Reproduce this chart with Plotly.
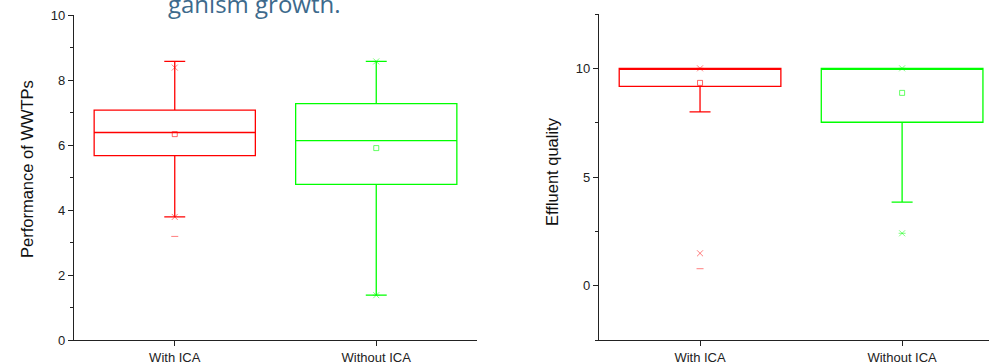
import plotly.graph_objects as go

categories = ["With ICA", "Without ICA"]
cat_pos = [1, 2]
colors = ["#ff0000", "#00ff00"]

# Left panel: Performance of WWTPs
perf_q1 = [5.68, 4.79]
perf_median = [6.39, 6.14]
perf_q3 = [7.08, 7.28]
perf_lower = [3.79, 1.38]
perf_upper = [8.58, 8.58]
perf_mean = [6.34, 5.91]
perf_p_hi = [8.39, 8.58]
perf_p_lo = [3.79, 1.38]
perf_max = [8.58, 8.58]
perf_min = [3.19, 1.38]

# Right panel: Effluent quality
eff_q1 = [9.17, 7.52]
eff_median = [10.0, 10.0]
eff_q3 = [10.0, 10.0]
eff_lower = [8.0, 3.84]
eff_upper = [10.0, 10.0]
eff_mean = [9.33, 8.87]
eff_p_hi = [10.0, 10.0]
eff_p_lo = [1.49, 2.41]
eff_max = [10.0, 10.0]
eff_min = [0.78, 2.41]

W, H = 989, 364
ML, MR, MT, MB = 0, 0, 0, 24
PW, PH = W - ML - MR, H - MT - MB

fig = go.Figure()

def add_panel(xa, ya, q1, med, q3, lo, up, mean, phi, plo, mx, mn):
    for i in range(2):
        c = colors[i]
        fig.add_trace(go.Box(
            x=[cat_pos[i]], q1=[q1[i]], median=[med[i]], q3=[q3[i]],
            lowerfence=[lo[i]], upperfence=[up[i]],
            width=0.8, whiskerwidth=0.13,
            line=dict(color=c, width=1.3), fillcolor="rgba(0,0,0,0)",
            boxpoints=False, showlegend=False, xaxis=xa, yaxis=ya))
        fig.add_trace(go.Scatter(
            x=[cat_pos[i]], y=[mean[i]], mode="markers",
            marker=dict(symbol="square-open", size=5, color=c, opacity=0.6,
                        line=dict(width=1, color=c)),
            showlegend=False, xaxis=xa, yaxis=ya))
        fig.add_trace(go.Scatter(
            x=[cat_pos[i], cat_pos[i]], y=[phi[i], plo[i]], mode="markers",
            marker=dict(symbol="x-thin-open", size=6, color=c, opacity=0.5,
                        line=dict(width=1, color=c)),
            showlegend=False, xaxis=xa, yaxis=ya))
        fig.add_trace(go.Scatter(
            x=[cat_pos[i], cat_pos[i]], y=[mx[i], mn[i]], mode="markers",
            marker=dict(symbol="line-ew-open", size=5, color=c, opacity=0.5,
                        line=dict(width=1, color=c)),
            showlegend=False, xaxis=xa, yaxis=ya))

add_panel("x", "y", perf_q1, perf_median, perf_q3, perf_lower, perf_upper,
          perf_mean, perf_p_hi, perf_p_lo, perf_max, perf_min)
add_panel("x2", "y2", eff_q1, eff_median, eff_q3, eff_lower, eff_upper,
          eff_mean, eff_p_hi, eff_p_lo, eff_max, eff_min)

tickfont = dict(family="Liberation Sans, Arial", size=13, color="#222")
titlefont = dict(family="Liberation Sans, Arial", size=16.5, color="#111")

common_x = dict(showline=True, linecolor="#222", linewidth=1.3, ticks="outside",
                ticklen=5, tickcolor="#222", tickvals=cat_pos, ticktext=categories,
                showgrid=False, zeroline=False, tickfont=tickfont, automargin=False)
common_y = dict(showline=True, linecolor="#222", linewidth=1.3, ticks="outside",
                ticklen=5, tickcolor="#222", showgrid=False, zeroline=False,
                tickfont=tickfont, automargin=False,
                minor=dict(ticks="outside", ticklen=3, tickcolor="#222", showgrid=False))

fig.update_layout(
    width=W, height=H, margin=dict(l=ML, r=MR, t=MT, b=MB, autoexpand=False),
    autosize=False, plot_bgcolor="white", paper_bgcolor="white",
    xaxis=dict(domain=[74 / W, 477 / W], range=[0.5, 2.5], anchor="y", **common_x),
    yaxis=dict(domain=[0, (PH - 15.3) / PH], range=[0, 10], dtick=2,
               anchor="x", **common_y),
    xaxis2=dict(domain=[599 / W, 1.0], range=[0.5, 2.43], anchor="y2", **common_x),
    yaxis2=dict(domain=[0, (PH - 14) / PH], range=[-2.5, 12.5], dtick=5,
                anchor="x2", **common_y),
)
fig.update_yaxes(minor_dtick=1, selector=dict(anchor="x"))
fig.update_yaxes(minor_dtick=2.5, selector=dict(anchor="x2"))

# axis titles
fig.add_annotation(text="Performance of WWTPs", xref="paper", yref="paper",
                   x=27 / W, y=(PH - 169) / PH, textangle=-90, showarrow=False,
                   xanchor="center", yanchor="middle", font=titlefont)
fig.add_annotation(text="Effluent quality", xref="paper", yref="paper",
                   x=552 / W, y=(PH - 172) / PH, textangle=-90, showarrow=False,
                   xanchor="center", yanchor="middle", font=titlefont)

fig.add_annotation(text="ganism growth.", xref="paper", yref="paper",
                   x=166 / W, y=(PH - 22) / PH,
                   xanchor="left", yanchor="bottom", showarrow=False,
                   font=dict(family="Open Sans", size=24, color="#3d6a8c"))

post = ("document.body.style.margin='0';document.body.style.overflow='hidden';"
        "var gd=document.getElementById('{plot_id}');"
        "Plotly.relayout(gd,{width:989,height:364});")
fig.write_html("out.html", config={"responsive": False, "displayModeBar": False},
               post_script=post)
